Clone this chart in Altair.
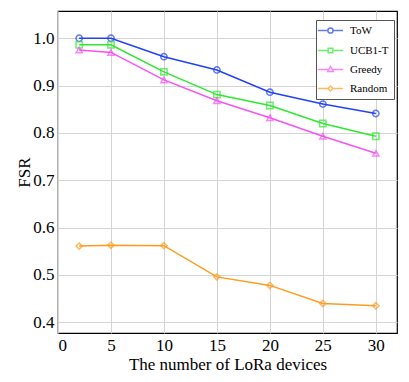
import altair as alt
import pandas as pd

devices = [2, 5, 10, 15, 20, 25, 30]
tow = [1.0, 1.0, 0.961, 0.933, 0.886, 0.861, 0.841]
ucb = [0.986, 0.986, 0.929, 0.881, 0.858, 0.820, 0.793]
greedy = [0.975, 0.970, 0.912, 0.868, 0.832, 0.793, 0.757]
rand = [0.561, 0.563, 0.562, 0.496, 0.478, 0.440, 0.435]

names = ["ToW", "UCB1-T", "Greedy", "Random"]
colors = ["#2142f5", "#2ee82e", "#f653f6", "#ff9c1f"]
shapes = ["circle", "square", "triangle-up", "diamond"]
legend_paths = [
    "M-4.6,0H-0.95M0.95,0H4.6M-0.95,0A0.95,0.95 0 1,1 0.95,0A0.95,0.95 0 1,1 -0.95,0",
    "M-4.6,0H-0.85M0.85,0H4.6M-0.85,-0.85H0.85V0.85H-0.85Z",
    "M-4.6,0H-0.6M0.6,0H4.6M0,-1.1L1.0,0.7H-1.0Z",
    "M-4.6,0H-0.9M0.9,0H4.6M0,-0.9L0.9,0L0,0.9L-0.9,0Z",
]

rows = []
for name, vals in zip(names, [tow, ucb, greedy, rand]):
    for d, v in zip(devices, vals):
        rows.append({"x": d, "y": v, "series": name})
df = pd.DataFrame(rows)

FONT = "Liberation Serif"

xenc = alt.X("x:Q", scale=alt.Scale(domain=[0, 32], nice=False, zero=False),
             axis=alt.Axis(values=[0, 5, 10, 15, 20, 25, 30], title="The number of LoRa devices",
                           format="d"))
yenc = alt.Y("y:Q", scale=alt.Scale(domain=[0.3775, 1.0575], nice=False, zero=False),
             axis=alt.Axis(values=[0.4, 0.5, 0.6, 0.7, 0.8, 0.9, 1.0], title="FSR", format=".1f",
                           titleX=-25))

base = alt.Chart(df)

lines = base.mark_line(strokeWidth=1.5).encode(
    x=xenc, y=yenc,
    color=alt.Color("series:N", scale=alt.Scale(domain=names, range=colors), legend=None),
    detail="series:N",
)

points = base.mark_point(filled=False, strokeWidth=1.5, size=40).encode(
    x=xenc, y=yenc,
    color=alt.Color("series:N", scale=alt.Scale(domain=names, range=colors), legend=None),
    shape=alt.Shape("series:N", scale=alt.Scale(domain=names, range=shapes), legend=None),
)

leg = alt.Legend(title=None, orient="none", legendX=258, legendY=9)
legend_layer = base.transform_filter("false").mark_point(filled=False, strokeWidth=1.5).encode(
    x=xenc, y=yenc,
    color=alt.Color("series:N", scale=alt.Scale(domain=names, range=colors), legend=leg),
    shape=alt.Shape("series:N", scale=alt.Scale(domain=names, range=legend_paths), legend=leg),
)

chart = alt.layer(lines, points, legend_layer).resolve_scale(
    color="independent", shape="independent"
).properties(
    width=339, height=322,
    autosize=alt.AutoSizeParams(type="none"),
    padding={"left": 50, "top": 3, "right": 4, "bottom": 40},
).configure_view(
    stroke="black", strokeWidth=1.2
).configure_axis(
    labelFont=FONT, titleFont=FONT, labelFontSize=17, titleFontSize=17,
    titleFontWeight="normal", labelColor="black", titleColor="black",
    grid=True, gridColor="#d4d4d4", gridWidth=1, ticks=False, domain=False,
    labelPadding=4,
).configure_axisY(
    titlePadding=1,
).configure_axisX(
    titlePadding=3,
).configure_legend(
    labelFont=FONT, labelFontSize=11, labelColor="black",
    strokeColor="#555555", fillColor="white", padding=5,
    symbolSize=30, symbolStrokeWidth=1.5, symbolOffset=4, labelOffset=14,
    rowPadding=7, cornerRadius=0,
)

chart.save("out.html", embed_options={"renderer": "svg", "actions": False})
